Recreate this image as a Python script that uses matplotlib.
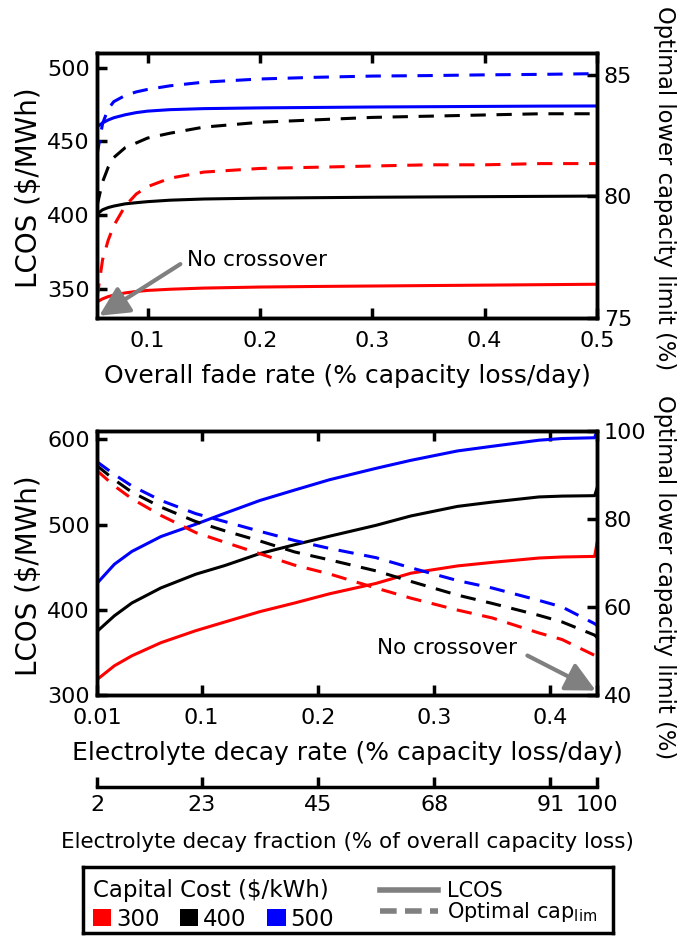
import matplotlib
matplotlib.use("Agg")
import matplotlib.pyplot as plt
from matplotlib.lines import Line2D
from matplotlib.patches import Patch

plt.rcParams['font.family'] = ['DejaVu Sans']

# capital cost cases
costs = ['300', '400', '500']
colors = ['#ff0000', '#000000', '#0000ff']

# top panel: overall fade rate sweep
fade_rate = [0.055, 0.06, 0.065, 0.07, 0.08, 0.09, 0.1, 0.12, 0.15, 0.2, 0.25, 0.3, 0.35, 0.4, 0.45, 0.5]
fade_lcos_300 = [340.9, 343.0, 344.5, 345.5, 347.0, 348.0, 348.7, 349.5, 350.3, 351.0, 351.4, 351.7, 352.0, 352.3, 352.6, 352.9]
fade_lcos_400 = [400.5, 403.5, 405.0, 406.0, 407.5, 408.3, 409.0, 410.0, 410.8, 411.4, 411.7, 412.0, 412.2, 412.4, 412.6, 412.8]
fade_lcos_500 = [459.8, 462.5, 464.5, 466.0, 468.0, 469.5, 470.5, 471.5, 472.2, 472.7, 473.0, 473.3, 473.5, 473.7, 473.9, 474.0]
fade_cap_300 = [75.8, 77.4, 78.2, 78.8, 79.6, 80.1, 80.4, 80.75, 81.0, 81.15, 81.2, 81.25, 81.3, 81.3, 81.35, 81.35]
fade_cap_400 = [79.6, 80.6, 81.2, 81.6, 82.0, 82.2, 82.4, 82.6, 82.85, 83.05, 83.15, 83.25, 83.3, 83.35, 83.4, 83.4]
fade_cap_500 = [81.7, 83.0, 83.6, 83.9, 84.15, 84.3, 84.4, 84.55, 84.7, 84.83, 84.9, 84.95, 84.97, 85.0, 85.02, 85.05]

# bottom panel: electrolyte decay rate sweep
decay_rate = [0.01, 0.025, 0.04, 0.065, 0.095, 0.12, 0.15, 0.18, 0.21, 0.25, 0.28, 0.32, 0.35, 0.39, 0.41, 0.438, 0.44]
decay_lcos_300 = [318, 334.3, 346, 361.4, 375.5, 385.7, 397.8, 408, 418.8, 431, 443, 451.5, 455.7, 460.8, 462, 462.7, 478]
decay_lcos_400 = [374.5, 393, 408, 425.7, 441.8, 452, 466, 476.4, 486.4, 499.2, 510.2, 521.4, 526.5, 532.5, 533.5, 534, 542.5]
decay_lcos_500 = [431, 453.5, 468.5, 486, 500.5, 513.3, 528.3, 540.6, 552.7, 566.1, 575.5, 586.5, 592, 599.1, 601.1, 602, 610.5]
decay_cap_300 = [91.0, 87.5, 84.6, 80.8, 76.9, 74.7, 72.1, 69.5, 67.5, 64.3, 62.0, 59.3, 57.5, 54.1, 52.6, 49.0, 48.6]
decay_cap_400 = [92.1, 88.9, 86.1, 82.7, 79.4, 77.3, 75.0, 72.5, 70.7, 68.2, 65.8, 62.7, 60.8, 58.1, 56.6, 53.6, 53.1]
decay_cap_500 = [93.0, 90.1, 87.5, 84.2, 81.2, 79.4, 77.2, 75.1, 73.3, 71.2, 68.9, 66.0, 64.3, 61.5, 60.0, 56.2, 55.8]

# ticks
fade_ticks = [0.1, 0.2, 0.3, 0.4, 0.5]
decay_ticks = [0.01, 0.1, 0.2, 0.3, 0.4, 0.44]
decay_tick_labels = ['0.01', '0.1', '0.2', '0.3', '0.4', '']
fraction_labels = ['2', '23', '45', '68', '91', '100']

DASH = (0, (5, 3.5))
LW = 2.2
GRAY = '#808080'
ARROW = '-|>,head_length=0.9,head_width=0.45'


def style(ax, ax2):
    for a in (ax, ax2):
        for s in a.spines.values():
            s.set_linewidth(2.5)
    ax.tick_params(axis='both', direction='in', length=7.5, width=2.5,
                   labelsize=16, top=True, right=False)
    ax.tick_params(axis='x', pad=9.5)
    ax.tick_params(axis='y', pad=5)
    ax2.tick_params(axis='y', direction='in', length=7.5, width=2.5,
                    labelsize=16, pad=5)


fig = plt.figure(figsize=(6.8, 9.36), dpi=100)

# ---------------- top panel ----------------
ax = fig.add_axes([0.1426, 0.6603, 0.7353, 0.2831])
ax2 = ax.twinx()
for lc, c in zip([fade_lcos_300, fade_lcos_400, fade_lcos_500], colors):
    ax.plot(fade_rate, lc, color=c, lw=LW)
for cp, c in zip([fade_cap_300, fade_cap_400, fade_cap_500], colors):
    ax2.plot(fade_rate, cp, color=c, lw=LW, linestyle=DASH)
ax.set_xlim(0.055, 0.5)
ax.set_ylim(330, 510)
ax2.set_ylim(75, 85.9)
ax.set_xticks(fade_ticks)
ax.set_yticks([350, 400, 450, 500])
ax2.set_yticks([75, 80, 85])
style(ax, ax2)
ax.set_xlabel('Overall fade rate (% capacity loss/day)', fontsize=18, labelpad=9)
ax.set_ylabel('LCOS ($/MWh)', fontsize=20)
ax.yaxis.set_label_coords(-0.136, 0.49)
ax.yaxis.label.set_va('center')
ax2.set_ylabel('Optimal lower capacity limit (%)', fontsize=16.3, rotation=270)
ax2.yaxis.set_label_coords(1.136, 0.49)
ax2.yaxis.label.set_va('center')
ax.annotate('No crossover', xy=(0.057, 331.5), xytext=(0.1348, 369.3),
            ha='left', va='center', fontsize=15.5,
            arrowprops=dict(arrowstyle=ARROW, color=GRAY, lw=3,
                            mutation_scale=20, relpos=(0, 0.5),
                            shrinkA=3, shrinkB=0))

# ---------------- bottom panel ----------------
bx = fig.add_axes([0.1426, 0.2575, 0.7353, 0.2821])
bx2 = bx.twinx()
for lc, c in zip([decay_lcos_300, decay_lcos_400, decay_lcos_500], colors):
    bx.plot(decay_rate, lc, color=c, lw=LW)
for cp, c in zip([decay_cap_300, decay_cap_400, decay_cap_500], colors):
    bx2.plot(decay_rate, cp, color=c, lw=LW, linestyle=DASH)
bx.set_xlim(0.01, 0.44)
bx.set_ylim(300, 610)
bx2.set_ylim(40, 100)
bx.set_xticks(decay_ticks, labels=decay_tick_labels)
bx.set_yticks([300, 400, 500, 600])
bx2.set_yticks([40, 60, 80, 100])
style(bx, bx2)
bx.set_xlabel('Electrolyte decay rate (% capacity loss/day)', fontsize=18, labelpad=9)
bx.set_ylabel('LCOS ($/MWh)', fontsize=20)
bx.yaxis.set_label_coords(-0.136, 0.45)
bx.yaxis.label.set_va('center')
bx2.set_ylabel('Optimal lower capacity limit (%)', fontsize=16.3, rotation=270)
bx2.yaxis.set_label_coords(1.136, 0.445)
bx2.yaxis.label.set_va('center')
bx2.annotate('No crossover', xy=(0.439, 41.0), xytext=(0.251, 50.6),
             ha='left', va='center', fontsize=15.5,
             arrowprops=dict(arrowstyle=ARROW, color=GRAY, lw=3,
                             mutation_scale=20, relpos=(1, 0.4),
                             shrinkA=6, shrinkB=0))

# secondary axis: electrolyte decay fraction
sec = bx.secondary_xaxis(-0.35)
sec.set_xticks(decay_ticks, labels=fraction_labels)
sec.spines['bottom'].set_linewidth(2.5)
sec.tick_params(direction='in', length=7.5, width=2.5, labelsize=16, pad=5.5)
sec.set_xlabel('Electrolyte decay fraction (% of overall capacity loss)',
               fontsize=15.5, labelpad=12)

# ---------------- legend box ----------------
lax = fig.add_axes([0.1221, 0.0032, 0.7794, 0.0705])
lax.set_xticks([])
lax.set_yticks([])
for s in lax.spines.values():
    s.set_linewidth(2.5)
leg1 = lax.legend(handles=[Patch(facecolor=c, edgecolor='none') for c in colors],
                  labels=costs, title='Capital Cost ($/kWh)', ncol=3,
                  loc='upper left', bbox_to_anchor=(0.019, 0.82), frameon=False,
                  fontsize=16.5, title_fontsize=16.5, alignment='left',
                  handlelength=0.8, handleheight=0.8, handletextpad=0.2,
                  columnspacing=0.9, labelspacing=0.25, borderpad=0,
                  borderaxespad=0)
lax.add_artist(leg1)
lax.legend(handles=[Line2D([], [], color=GRAY, lw=4),
                    Line2D([], [], color=GRAY, lw=4, linestyle=(0, (3, 1.5)))],
           labels=['LCOS', r'Optimal cap$_{\mathregular{lim}}$'],
           loc='upper left', bbox_to_anchor=(0.56, 0.785), frameon=False,
           fontsize=15, handlelength=2.8, handletextpad=0.43,
           labelspacing=-0.05, borderpad=0, borderaxespad=0)

fig.savefig('out.png', dpi=100)
